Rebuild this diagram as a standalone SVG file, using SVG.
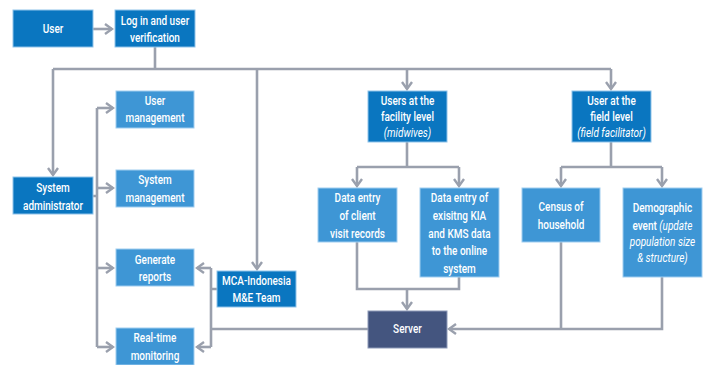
<svg xmlns="http://www.w3.org/2000/svg" width="710" height="365" viewBox="0 0 710 365">
<style>
.dk{fill:#0a76c0;stroke:#8fc3ea;stroke-width:1}
.lt{fill:#3e96d5;stroke:#9fcdf0;stroke-width:1}
.sv{fill:#44557f;stroke:#8d9ab8;stroke-width:1}
.t{font-family:Roboto,"Liberation Sans",sans-serif;font-size:12.5px;font-weight:500;fill:#ffffff;text-anchor:middle;transform-box:fill-box;transform-origin:center;transform:scaleX(0.8)}
.i{font-style:italic;font-weight:400}
.c{fill:none;stroke:#9aa0ad;stroke-width:2.6}
</style>
<defs>
<marker id="a" viewBox="0 0 10 12" refX="8" refY="6" markerWidth="10" markerHeight="12" markerUnits="userSpaceOnUse" orient="auto">
<path d="M1,1 L8,6 L1,11" fill="none" stroke="#9aa0ad" stroke-width="2.4"/>
</marker>
</defs>
<g id="connectors">
<path class="c" d="M93,29 H112" marker-end="url(#a)"/>
<path class="c" d="M155,47 V69 M53,69 H611"/>
<path class="c" d="M53,69 V175" marker-end="url(#a)"/>
<path class="c" d="M407,69 V89" marker-end="url(#a)"/>
<path class="c" d="M611,69 V89" marker-end="url(#a)"/>
<path class="c" d="M257,69 V269" marker-end="url(#a)"/>
<path class="c" d="M93,196 H97 M97,108 V347"/>
<path class="c" d="M97,108 H113" marker-end="url(#a)"/>
<path class="c" d="M97,188 H113" marker-end="url(#a)"/>
<path class="c" d="M97,268 H113" marker-end="url(#a)"/>
<path class="c" d="M97,347 H113" marker-end="url(#a)"/>
<path class="c" d="M217,289 H211 M211,268 V347 M211,329 H368"/>
<path class="c" d="M211,268 H197" marker-end="url(#a)"/>
<path class="c" d="M211,347 H197" marker-end="url(#a)"/>
<path class="c" d="M407,142 V167 M357,167 H459"/>
<path class="c" d="M357,167 V186" marker-end="url(#a)"/>
<path class="c" d="M459,167 V186" marker-end="url(#a)"/>
<path class="c" d="M611,142 V167 M561,167 H662"/>
<path class="c" d="M561,167 V186" marker-end="url(#a)"/>
<path class="c" d="M662,167 V186" marker-end="url(#a)"/>
<path class="c" d="M357,242 V289 H459 V277"/>
<path class="c" d="M407,289 V309" marker-end="url(#a)"/>
<path class="c" d="M561,242 V329"/>
<path class="c" d="M662,277 V329 H449" marker-end="url(#a)"/>
</g>
<g id="user"><rect class="dk" x="13" y="10" width="80" height="37"/><text class="t" x="53" y="33">User</text></g>
<g id="login"><rect class="dk" x="115" y="10" width="80" height="37"/><text class="t" x="155" y="25"><tspan x="155">Log in and user</tspan><tspan x="155" y="42">verification</tspan></text></g>
<g id="sysadmin"><rect class="dk" x="13" y="177" width="80" height="37"/><text class="t" x="53" y="192"><tspan x="53">System</tspan><tspan x="53" y="210">administrator</tspan></text></g>
<g id="usermgmt"><rect class="lt" x="116" y="91" width="78" height="37"/><text class="t" x="155" y="105"><tspan x="155">User</tspan><tspan x="155" y="122">management</tspan></text></g>
<g id="sysmgmt"><rect class="lt" x="116" y="170" width="78" height="37"/><text class="t" x="155" y="184"><tspan x="155">System</tspan><tspan x="155" y="202">management</tspan></text></g>
<g id="reports"><rect class="lt" x="116" y="249" width="78" height="37"/><text class="t" x="155" y="264"><tspan x="155">Generate</tspan><tspan x="155" y="281">reports</tspan></text></g>
<g id="monitoring"><rect class="lt" x="116" y="328" width="78" height="37"/><text class="t" x="155" y="342"><tspan x="155">Real-time</tspan><tspan x="155" y="360">monitoring</tspan></text></g>
<g id="mca"><rect class="dk" x="217" y="271" width="79" height="36"/><text class="t" x="256.5" y="285"><tspan x="256.5">MCA-Indonesia</tspan><tspan x="256.5" y="302">M&amp;E Team</tspan></text></g>
<g id="server"><rect class="sv" x="368" y="311" width="79" height="37"/><text class="t" x="407.5" y="333">Server</text></g>
<g id="facility"><rect class="dk" x="368" y="91" width="79" height="51"/><text class="t" x="407.5" y="105"><tspan x="407.5">Users at the</tspan><tspan x="407.5" y="121">facility level</tspan><tspan x="407.5" y="137" class="i">(midwives)</tspan></text></g>
<g id="field"><rect class="dk" x="572" y="91" width="79" height="51"/><text class="t" x="611.5" y="105"><tspan x="611.5">User at the</tspan><tspan x="611.5" y="121">field level</tspan><tspan x="611.5" y="137" class="i">(field facilitator)</tspan></text></g>
<g id="client"><rect class="lt" x="318" y="188" width="79" height="54"/><text class="t" x="357.5" y="202"><tspan x="357.5">Data entry</tspan><tspan x="357.5" y="220">of client</tspan><tspan x="357.5" y="238">visit records</tspan></text></g>
<g id="existing"><rect class="lt" x="420" y="188" width="79" height="89"/><text class="t" x="459.5" y="202"><tspan x="459.5">Data entry of</tspan><tspan x="459.5" y="220">exisitng  KIA</tspan><tspan x="459.5" y="238">and KMS data</tspan><tspan x="459.5" y="255">to the online</tspan><tspan x="459.5" y="273">system</tspan></text></g>
<g id="census"><rect class="lt" x="522" y="188" width="78" height="54"/><text class="t" x="561" y="211"><tspan x="561">Census of</tspan><tspan x="561" y="229">household</tspan></text></g>
<g id="demographic"><rect class="lt" x="623" y="188" width="79" height="89"/><text class="t" x="662.5" y="212"><tspan x="662.5">Demographic</tspan><tspan x="662.5" y="230">event <tspan class="i">(update</tspan></tspan><tspan x="662.5" y="246" class="i">population size</tspan><tspan x="662.5" y="262" class="i">&amp; structure)</tspan></text></g>
</svg>
